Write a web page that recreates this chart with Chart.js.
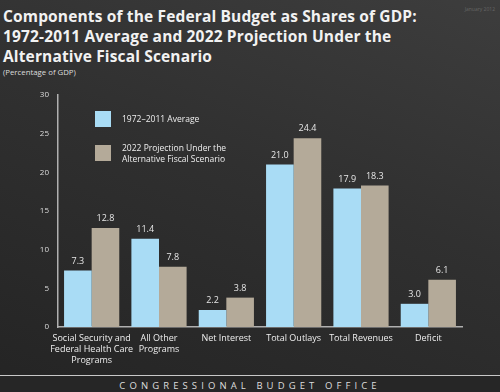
<!DOCTYPE html>
<html lang="en">
<head>
  <meta charset="UTF-8">
  <title>Components of the Federal Budget</title>
  <script src="https://cdn.jsdelivr.net/npm/chart.js"></script>
  <style>
    html, body { margin: 0; padding: 0; }
    body {
      width: 500px; height: 392px; overflow: hidden; position: relative;
      background: linear-gradient(200deg, #3d3d3d 0%, #303030 45%, #242424 100%);
      font-family: "Open Sans", "DejaVu Sans", sans-serif; color: #eee;
    }
    #title {
      position: absolute; left: 3px; top: 6px; margin: 0;
      font-size: 15.5px; font-weight: 700; line-height: 20px; letter-spacing: 0.15px; color: #f2f2f2;
    }
    #sub { position: absolute; left: 3px; top: 67px; font-size: 7.8px; color: #ddd; }
    #date { position: absolute; right: 5px; top: 6px; font-size: 5px; color: #666; }
    #wrap { position: absolute; left: 0; top: 80px; width: 500px; height: 300px; }
    .leg { position: absolute; left: 95px; font-size: 8.5px; line-height: 11px; color: #eee; }
    .leg span.sw { position: absolute; left: 0; top: 0; width: 16px; height: 16px; }
    .leg span.tx { position: absolute; left: 27px; white-space: nowrap; }
    #footer {
      position: absolute; left: 0; top: 375px; width: 500px; height: 17px;
      border-top: 1.5px solid #c8c8c8; background: #262626;
    }
    #footer div {
      text-align: center; font-size: 9.5px; letter-spacing: 4.1px; color: #ddd; margin-top: 3px;
    }
  </style>
</head>
<body>
  <h1 id="title">Components of the Federal Budget as Shares of GDP:<br>1972-2011 Average and 2022 Projection Under the<br>Alternative Fiscal Scenario</h1>
  <div id="sub">(Percentage of GDP)</div>
  <div id="date">January 2012</div>
  <div id="wrap"><canvas id="chart"></canvas></div>
  <div class="leg" style="top:111px"><span class="sw" style="background:#a9dcf5"></span><span class="tx" style="top:2px" id="leg0"></span></div>
  <div class="leg" style="top:145px"><span class="sw" style="background:#b4aa99"></span><span class="tx" style="top:-3px" id="leg1"></span></div>
  <div id="footer"><div>CONGRESSIONAL BUDGET OFFICE</div></div>

  <script>
    const categories = [
      ['Social Security and', 'Federal Health Care', 'Programs'],
      ['All Other', 'Programs'],
      'Net Interest',
      'Total Outlays',
      'Total Revenues',
      'Deficit'
    ];
    const seriesNames = ['1972\u20132011 Average', '2022 Projection Under the\nAlternative Fiscal Scenario'];
    const average = [7.3, 11.4, 2.2, 21.0, 17.9, 3.0];
    const projection = [12.8, 7.8, 3.8, 24.4, 18.3, 6.1];
    const yTicks = [0, 5, 10, 15, 20, 25, 30];

    document.getElementById('leg0').innerText = seriesNames[0];
    document.getElementById('leg1').innerText = seriesNames[1];

    // value labels above each bar
    const valueLabels = {
      id: 'valueLabels',
      afterDatasetsDraw(chart) {
        const ctx = chart.ctx;
        ctx.save();
        ctx.font = '9px "Open Sans"';
        ctx.fillStyle = '#e6e6e6';
        ctx.textAlign = 'center';
        ctx.textBaseline = 'bottom';
        chart.data.datasets.forEach((ds, i) => {
          chart.getDatasetMeta(i).data.forEach((bar, j) => {
            ctx.fillText(ds.data[j].toFixed(1), bar.x, bar.y - 5);
          });
        });
        ctx.restore();
      }
    };

    const ctx = document.getElementById('chart').getContext('2d');
    new Chart(ctx, {
      type: 'bar',
      data: {
        labels: categories,
        datasets: [
          { label: seriesNames[0], data: average, backgroundColor: '#a9dcf5' },
          { label: seriesNames[1], data: projection, backgroundColor: '#b4aa99' }
        ]
      },
      options: {
        responsive: true,
        maintainAspectRatio: false,
        animation: false,
        layout: { padding: { top: 15, right: 38, left: 0, bottom: 0 } },
        plugins: { legend: { display: false }, tooltip: { enabled: false } },
        datasets: { bar: { categoryPercentage: 0.82, barPercentage: 1 } },
        scales: {
          x: {
            grid: { display: false, drawTicks: false },
            border: { color: '#b0b0b0', width: 1.5 },
            ticks: { color: '#eee', font: { family: 'Open Sans', size: 9 }, padding: 6, maxRotation: 0, autoSkip: false },
            afterFit: s => { s.height = 53; }
          },
          y: {
            min: 0, max: 30,
            grid: { display: false, drawTicks: false },
            border: { color: '#b0b0b0', width: 1.5 },
            ticks: { color: '#ddd', font: { family: 'Open Sans', size: 8 }, padding: 9, stepSize: 5 },
            afterBuildTicks: s => { s.ticks = yTicks.map(v => ({ value: v })); },
            afterFit: s => { s.width = 58; }
          }
        }
      },
      plugins: [valueLabels]
    });
  </script>
</body>
</html>
